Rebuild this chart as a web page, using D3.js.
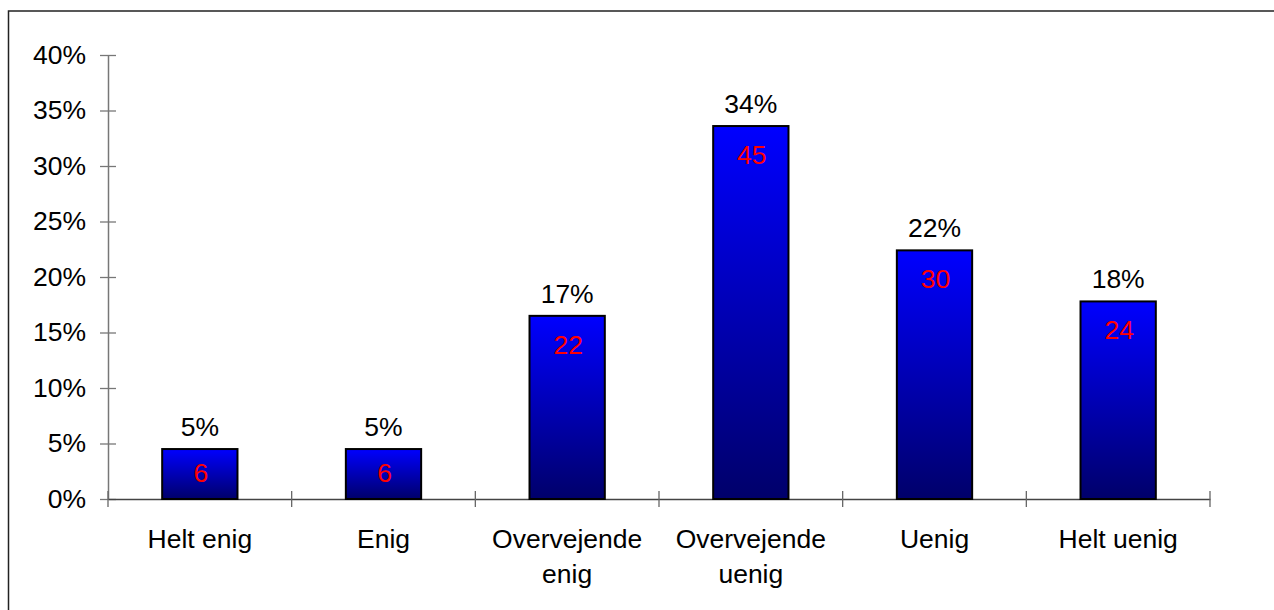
<!DOCTYPE html>
<html>
<head>
<meta charset="utf-8">
<script src="https://cdn.jsdelivr.net/npm/d3@7"></script>
<style>
  html, body { margin: 0; padding: 0; background: #fff; }
  svg text { font-family: Arial, "Liberation Sans", Helvetica, sans-serif; }
</style>
</head>
<body>
<svg id="chart" width="1274" height="610"></svg>
<script>
// ---- data ----
const categories = ["Helt enig", "Enig", "Overvejende enig", "Overvejende uenig", "Uenig", "Helt uenig"];
const percentValues = [4.5, 4.5, 16.5, 33.6, 22.4, 17.8];
const percentLabels = ["5%", "5%", "17%", "34%", "22%", "18%"];
const counts = [6, 6, 22, 45, 30, 24];
const yTicks = [0, 5, 10, 15, 20, 25, 30, 35, 40];

// ---- layout ----
const W = 1274, H = 610;
const plot = { left: 108, right: 1210, top: 55, bottom: 499 };
const fontSize = 26.5;

const svg = d3.select("#chart");

// frame
svg.append("rect")
  .attr("x", 8.5).attr("y", 11)
  .attr("width", W + 20).attr("height", H + 20)
  .attr("fill", "#fff").attr("stroke", "#222").attr("stroke-width", 1.5);

// gradient
const defs = svg.append("defs");
const grad = defs.append("linearGradient")
  .attr("id", "barGrad").attr("x1", 0).attr("y1", 0).attr("x2", 0).attr("y2", 1);
grad.append("stop").attr("offset", "0%").attr("stop-color", "#0000ff");
grad.append("stop").attr("offset", "100%").attr("stop-color", "#00006a");

const x = d3.scaleBand().domain(categories).range([plot.left, plot.right]).padding(0);
const y = d3.scaleLinear().domain([0, 40]).range([plot.bottom, plot.top]);

// y axis
const yAxis = d3.axisLeft(y).tickValues(yTicks).tickFormat(d => d + "%")
  .tickSizeInner(8).tickSizeOuter(0).tickPadding(14);
const yg = svg.append("g").attr("transform", `translate(${plot.left},0)`).call(yAxis);
yg.select(".domain").attr("stroke", "#777").attr("stroke-width", 1.5);
yg.selectAll(".tick line").attr("stroke", "#777").attr("x1", -8).attr("x2", 8).attr("stroke-width", 1.3);
yg.selectAll(".tick text").attr("font-size", fontSize).attr("fill", "#000")
  .attr("font-family", "Arial, 'Liberation Sans', sans-serif");

// x axis
const xAxis = d3.axisBottom(x).tickSizeInner(0).tickSizeOuter(0).tickFormat("");
const xg = svg.append("g").attr("transform", `translate(0,${plot.bottom})`).call(xAxis);
xg.select(".domain").attr("stroke", "#444").attr("stroke-width", 1.3);
xg.selectAll(".tick").remove();
// boundary ticks
const boundaries = categories.map(c => x(c)).concat([x(categories[categories.length - 1]) + x.bandwidth()]);
xg.selectAll("line.bound").data(boundaries).enter().append("line")
  .attr("class", "bound")
  .attr("x1", d => d).attr("x2", d => d)
  .attr("y1", -8).attr("y2", 8)
  .attr("stroke", "#666").attr("stroke-width", 1.3);

// category labels with wrapping
const maxLabelW = 175;
categories.forEach(c => {
  const t = svg.append("text")
    .attr("x", x(c) + x.bandwidth() / 2)
    .attr("y", plot.bottom + 49)
    .attr("text-anchor", "middle")
    .attr("font-size", fontSize)
    .attr("fill", "#000");
  const words = c.split(" ");
  let line = [];
  let tspan = t.append("tspan").attr("x", x(c) + x.bandwidth() / 2).attr("dy", 0);
  words.forEach(w => {
    line.push(w);
    tspan.text(line.join(" "));
    if (tspan.node().getComputedTextLength() > maxLabelW && line.length > 1) {
      line.pop();
      tspan.text(line.join(" "));
      line = [w];
      tspan = t.append("tspan").attr("x", x(c) + x.bandwidth() / 2).attr("dy", 35).text(w);
    }
  });
});

// bars
const barW = x.bandwidth() * 0.41;
const data = categories.map((c, i) => ({ c, v: percentValues[i], p: percentLabels[i], n: counts[i] }));

svg.append("g").selectAll("rect").data(data).enter().append("rect")
  .attr("x", d => x(d.c) + (x.bandwidth() - barW) / 2)
  .attr("y", d => y(d.v))
  .attr("width", barW)
  .attr("height", d => y(0) - y(d.v))
  .attr("fill", "url(#barGrad)")
  .attr("stroke", "#000")
  .attr("stroke-width", 2);

// percentage labels
svg.append("g").selectAll("text").data(data).enter().append("text")
  .attr("x", d => x(d.c) + x.bandwidth() / 2)
  .attr("y", d => y(d.v) - 13)
  .attr("text-anchor", "middle")
  .attr("font-size", fontSize)
  .attr("fill", "#000")
  .text(d => d.p);

// count labels
svg.append("g").selectAll("text").data(data).enter().append("text")
  .attr("x", d => x(d.c) + x.bandwidth() / 2 + 1)
  .attr("y", d => y(d.v) + Math.min(38, (y(0) - y(d.v)) / 2 + 8))
  .attr("text-anchor", "middle")
  .attr("font-size", fontSize)
  .attr("fill", "#ff0000")
  .text(d => d.n);
</script>
</body>
</html>
